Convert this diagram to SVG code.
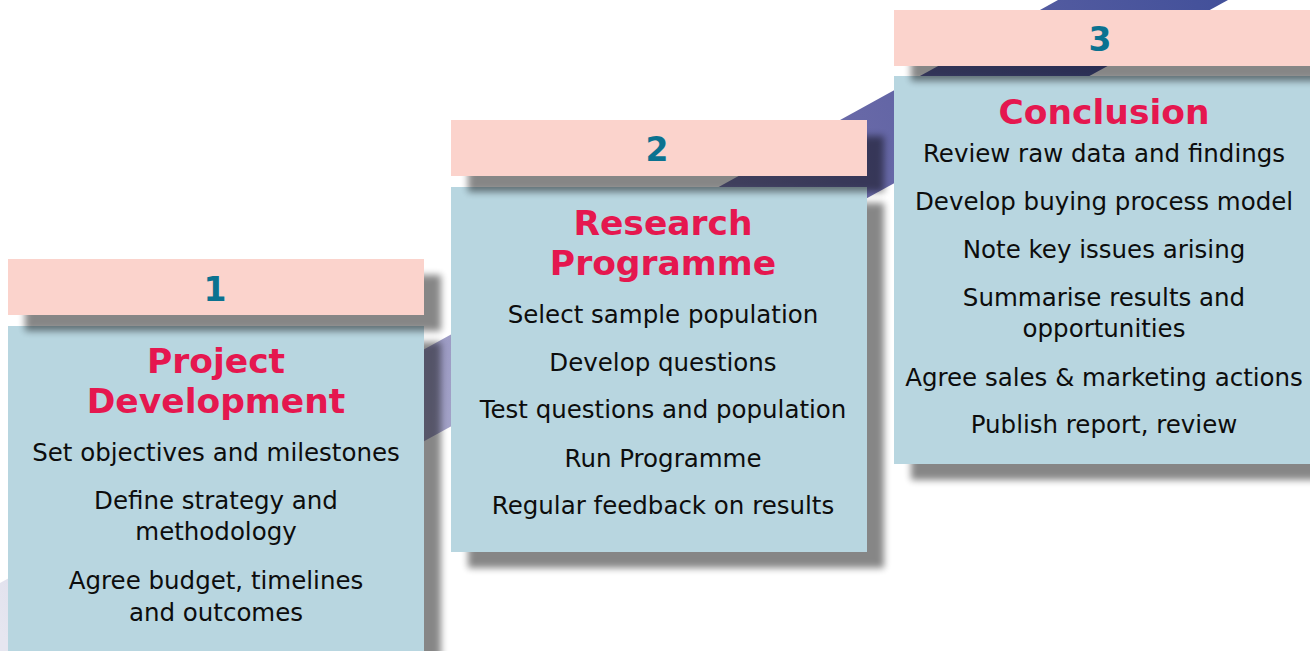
<svg xmlns="http://www.w3.org/2000/svg" width="1310" height="651" viewBox="0 0 1310 651">
  <style>
    .hdr { fill: #fbd3cc; }
    .body { fill: #b8d6e0; }
    .shadow { fill: #000; opacity: 0.47; }
    .num { font-family: "DejaVu Sans", sans-serif; font-weight: bold; font-size: 33px; fill: #0b7290; text-anchor: middle; }
    .title { font-family: "DejaVu Sans", sans-serif; font-weight: bold; font-size: 34.5px; fill: #e5174f; text-anchor: middle; }
    .item { font-family: "DejaVu Sans", sans-serif; font-size: 24.5px; fill: #0d0d0d; text-anchor: middle; }
  </style>
  <defs>
    <linearGradient id="bandFill" gradientUnits="userSpaceOnUse" x1="0" y1="630" x2="1230" y2="0">
      <stop offset="0" stop-color="#e6e6f0"/>
      <stop offset="0.38" stop-color="#9e9dc5"/>
      <stop offset="0.7" stop-color="#6a6aa8"/>
      <stop offset="1" stop-color="#42509a"/>
    </linearGradient>
    <filter id="soft" x="-20%" y="-60%" width="140%" height="220%">
      <feGaussianBlur stdDeviation="3.5"/>
    </filter>
  </defs>

  <rect width="1310" height="651" fill="#fff"/>

  <!-- rising diagonal band behind the steps -->
  <polygon points="0,583 1058,0 1228,0 0,674" fill="url(#bandFill)"/>

  <!-- step 1 -->
  <g id="step1">
    <rect class="shadow" x="25" y="342" width="416" height="360" filter="url(#soft)"/>
    <rect class="body" x="8" y="326" width="416" height="360"/>
    <rect class="shadow" x="25" y="275" width="416" height="56" filter="url(#soft)"/>
    <rect class="hdr" x="8" y="259" width="416" height="56"/>
    <text class="num" x="215" y="301">1</text>
    <text class="title" x="216" y="373">Project</text>
    <text class="title" x="216" y="413">Development</text>
    <text class="item" x="216" y="461">Set objectives and milestones</text>
    <text class="item" x="216" y="509">Define strategy and</text>
    <text class="item" x="216" y="540">methodology</text>
    <text class="item" x="216" y="589">Agree budget, timelines</text>
    <text class="item" x="216" y="621">and outcomes</text>
  </g>

  <!-- step 2 -->
  <g id="step2">
    <rect class="shadow" x="468" y="203" width="416" height="365" filter="url(#soft)"/>
    <rect class="body" x="451" y="187" width="416" height="365"/>
    <rect class="shadow" x="468" y="136" width="416" height="56" filter="url(#soft)"/>
    <rect class="hdr" x="451" y="120" width="416" height="56"/>
    <text class="num" x="657" y="161">2</text>
    <text class="title" x="663" y="235">Research</text>
    <text class="title" x="663" y="275">Programme</text>
    <text class="item" x="663" y="323">Select sample population</text>
    <text class="item" x="663" y="371">Develop questions</text>
    <text class="item" x="663" y="418">Test questions and population</text>
    <text class="item" x="663" y="467">Run Programme</text>
    <text class="item" x="663" y="514">Regular feedback on results</text>
  </g>

  <!-- step 3 -->
  <g id="step3">
    <rect class="shadow" x="911" y="92" width="416" height="388" filter="url(#soft)"/>
    <rect class="body" x="894" y="76" width="416" height="388"/>
    <rect class="shadow" x="911" y="26" width="416" height="55" filter="url(#soft)"/>
    <rect class="hdr" x="894" y="10" width="416" height="56"/>
    <text class="num" x="1100" y="51">3</text>
    <text class="title" x="1104" y="124">Conclusion</text>
    <text class="item" x="1104" y="162">Review raw data and findings</text>
    <text class="item" x="1104" y="210">Develop buying process model</text>
    <text class="item" x="1104" y="258">Note key issues arising</text>
    <text class="item" x="1104" y="306">Summarise results and</text>
    <text class="item" x="1104" y="337">opportunities</text>
    <text class="item" x="1104" y="386">Agree sales &amp; marketing actions</text>
    <text class="item" x="1104" y="433">Publish report, review</text>
  </g>

  <g id="connectors"/>
</svg>
